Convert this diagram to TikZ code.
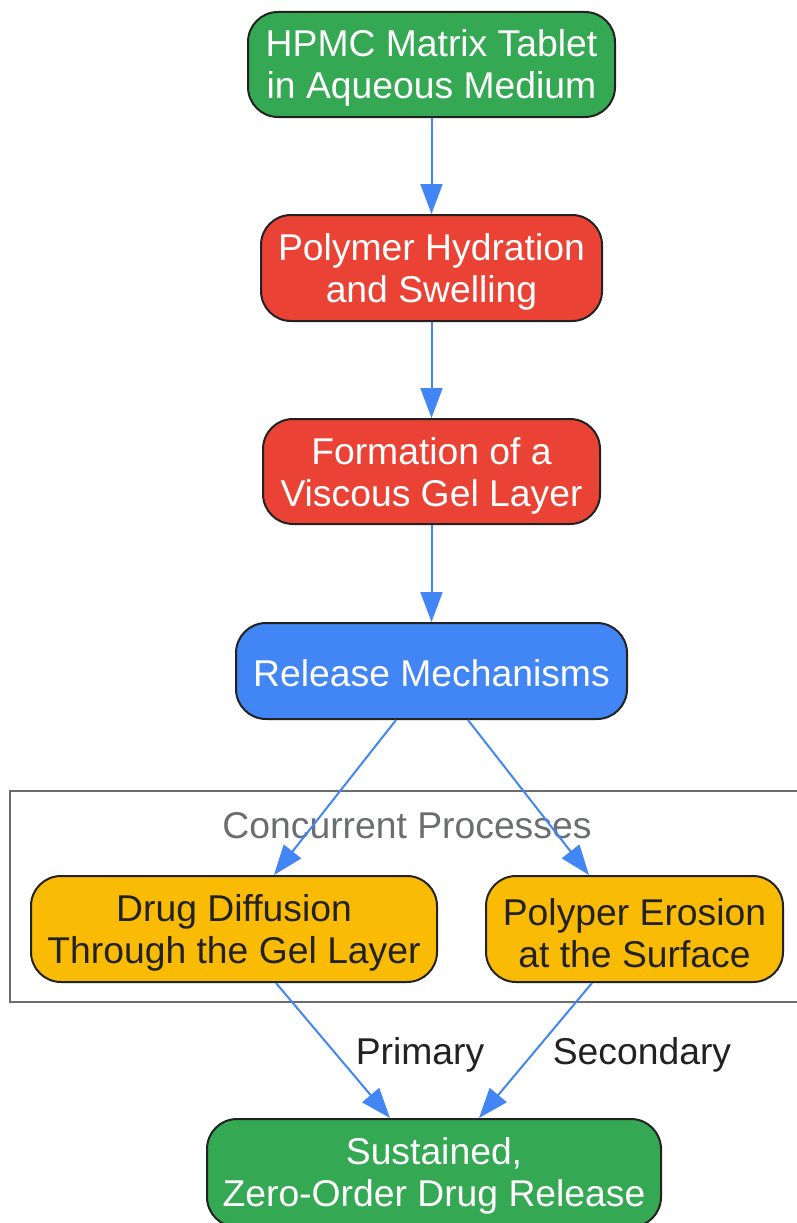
\documentclass[tikz,border=0pt]{standalone}
\usepackage{fontspec}
\setmainfont{Liberation Sans}
\usetikzlibrary{arrows.meta}
\definecolor{ggreen}{HTML}{34A853}
\definecolor{gred}{HTML}{EA4335}
\definecolor{gblue}{HTML}{4285F4}
\definecolor{gyellow}{HTML}{FABB05}
\definecolor{dark}{HTML}{222222}
\definecolor{cgray}{HTML}{6B6D70}
\tikzset{
  box/.style={draw=dark, line width=2pt, rounded corners=30pt, inner sep=0pt},
  txt/.style={align=center, inner sep=0pt, font=\fontsize{37.3}{42}\selectfont},
  wtxt/.style={txt, text=white},
  ytxt/.style={txt, text=dark},
  conn/.style={draw=gblue, line width=2pt, -{Triangle[length=30pt,width=22pt]}},
  elabel/.style={font=\fontsize{37.3}{42}\selectfont, text=dark}
}
\begin{document}
\begin{tikzpicture}[x=1pt,y=-1pt]
\useasboundingbox (0,0) rectangle (796,1223);
\draw[cgray, line width=2.5pt] (800,791) -- (10,791) -- (10,1002) -- (800,1002);
\node[font=\fontsize{37.3}{42}\selectfont, text=cgray] (cl) at (407,826) {Concurrent Processes};

\node[box, fill=ggreen, minimum width=367pt, minimum height=105pt] (n1) at (431.5,64.5) {};
\node[wtxt] (n1t) at (431.5,68) {HPMC Matrix Tablet\\in Aqueous Medium};
\node[box, fill=gred, minimum width=341pt, minimum height=106pt] (n2) at (431.5,268) {};
\node[wtxt] (n2t) at (431.5,272) {Polymer Hydration\\and Swelling};
\node[box, fill=gred, minimum width=337pt, minimum height=105pt] (n3) at (431.5,471.5) {};
\node[wtxt] (n3t) at (431.5,476) {Formation of a\\Viscous Gel Layer};
\node[box, fill=gblue, minimum width=391pt, minimum height=96pt] (n4) at (431.5,671) {};
\node[wtxt] (n4t) at (431.5,673) {Release Mechanisms};
\node[box, fill=gyellow, minimum width=406pt, minimum height=106pt] (n5) at (234,929) {};
\node[ytxt] (n5t) at (234,933) {Drug Diffusion\\Through the Gel Layer};
\node[box, fill=gyellow, minimum width=297pt, minimum height=106pt] (n6) at (634.5,929) {};
\node[ytxt] (n6t) at (634.5,933) {Polyper Erosion\\at the Surface};
\node[box, fill=ggreen, minimum width=454pt, minimum height=108pt] (n7) at (434,1173) {};
\node[wtxt] (n7t) at (434,1176) {Sustained,\\Zero-Order Drug Release};

\draw[conn] (n1.south) -- (n2.north);
\draw[conn] (n2.south) -- (n3.north);
\draw[conn] (n3.south) -- (n4.north);
\draw[conn] (n4.south -| 396,0) -- (n5.north -| 274,0);
\draw[conn] (n4.south -| 468,0) -- (n6.north -| 589,0);
\draw[conn] (n5.south -| 276,0) -- (n7.north -| 390,0);
\draw[conn] (n6.south -| 592,0) -- (n7.north -| 479,0);
\node[elabel] (l1) at (420,1055) {Primary};
\node[elabel] (l2) at (642,1055) {Secondary};
\end{tikzpicture}
\end{document}
